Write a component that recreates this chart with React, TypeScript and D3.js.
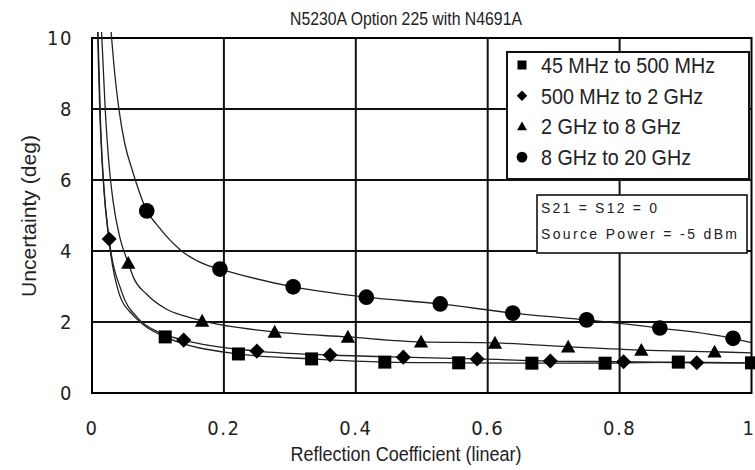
import React from "react";
import * as d3 from "d3";

const title = "N5230A Option 225 with N4691A";
const xTitle = "Reflection Coefficient (linear)";
const yTitle = "Uncertainty (deg)";
const xTicks = [0, 0.2, 0.4, 0.6, 0.8, 1];
const xTickLabels = ["0", "0.2", "0.4", "0.6", "0.8", "1"];
const yTicks = [0, 2, 4, 6, 8, 10];
const yTickLabels = ["0", "2", "4", "6", "8", "10"];
const seriesNames = ["45 MHz to 500 MHz", "500 MHz to 2 GHz", "2 GHz to 8 GHz", "8 GHz to 20 GHz"];
const seriesShapes = ["square", "diamond", "triangle", "circle"];
const noteLines = ["S21 = S12 = 0", "Source Power = -5 dBm"];

// marker values
const squareX = [0.111, 0.222, 0.333, 0.444, 0.556, 0.667, 0.778, 0.889, 1.0];
const squareY = [1.58, 1.1, 0.96, 0.87, 0.85, 0.84, 0.84, 0.87, 0.85];
const diamondX = [0.026, 0.139, 0.25, 0.361, 0.472, 0.584, 0.695, 0.806, 0.917];
const diamondY = [4.34, 1.49, 1.18, 1.07, 1.01, 0.96, 0.9, 0.88, 0.85];
const triangleX = [0.055, 0.167, 0.277, 0.388, 0.499, 0.611, 0.722, 0.833, 0.944];
const triangleY = [3.66, 2.03, 1.72, 1.58, 1.44, 1.41, 1.3, 1.21, 1.16];
const circleX = [0.083, 0.194, 0.305, 0.416, 0.528, 0.638, 0.75, 0.861, 0.972];
const circleY = [5.13, 3.49, 2.99, 2.7, 2.51, 2.25, 2.06, 1.83, 1.54];

// trend-line points (beyond the markers)
const squareCurveX = [0.0085, 0.012, 0.017, 0.025, 0.042, 0.062, 0.083];
const squareCurveY = [10.17, 7.8, 6.0, 4.4, 2.75, 2.2, 1.85];
const diamondCurveX = [0.009, 0.013, 0.018, 0.045, 0.07, 0.1, 1.0];
const diamondCurveY = [10.17, 7.6, 5.8, 2.85, 2.1, 1.72, 0.84];
const triangleCurveX = [0.0145, 0.02, 0.026, 0.032, 0.042, 0.063, 0.083, 0.113, 0.14, 1.0];
const triangleCurveY = [10.17, 8.0, 6.4, 5.4, 4.4, 3.25, 2.78, 2.36, 2.17, 1.13];
const circleCurveX = [0.029, 0.035, 0.041, 0.05, 0.061, 0.072, 0.098, 0.134, 0.174, 1.0];
const circleCurveY = [10.17, 8.9, 7.97, 7.0, 6.28, 5.65, 4.75, 4.03, 3.6, 1.42];

const markerXs = [squareX, diamondX, triangleX, circleX];
const markerYs = [squareY, diamondY, triangleY, circleY];
const curveXs = [squareCurveX, diamondCurveX, triangleCurveX, circleCurveX];
const curveYs = [squareCurveY, diamondCurveY, triangleCurveY, circleCurveY];

const NARROW = "'Liberation Sans Narrow', 'Arial Narrow', 'DejaVu Sans Condensed', sans-serif";
const SANS = "'Liberation Sans', Arial, sans-serif";

function Marker({ shape, cx, cy, s }: { shape: string; cx: number; cy: number; s: number }) {
  if (shape === "square") return <rect x={cx - s / 2} y={cy - s / 2} width={s} height={s} fill="#000" />;
  if (shape === "diamond") {
    const h = s * 0.58;
    return <path d={`M${cx},${cy - h}L${cx + h},${cy}L${cx},${cy + h}L${cx - h},${cy}Z`} fill="#000" />;
  }
  if (shape === "triangle") {
    const h = s * 0.55;
    return <path d={`M${cx},${cy - h}L${cx + h},${cy + h * 0.8}L${cx - h},${cy + h * 0.8}Z`} fill="#000" />;
  }
  return <circle cx={cx} cy={cy} r={s * 0.6} fill="#000" />;
}

const legendWidths = [174, 162, 140, 150];

export default function App() {
  const W = 755, H = 470;
  const x = d3.scaleLinear().domain([0, 1]).range([92, 751.5]);
  const y = d3.scaleLinear().domain([0, 10]).range([393, 38]);
  const line = d3
    .line<[number, number]>()
    .x((d) => x(d[0]))
    .y((d) => y(d[1]))
    .curve(d3.curveMonotoneX);

  const series = seriesNames.map((name, i) => {
    const pts: [number, number][] = [
      ...markerXs[i].map((v, j) => [v, markerYs[i][j]] as [number, number]),
      ...curveXs[i].map((v, j) => [v, curveYs[i][j]] as [number, number]),
    ].sort((a, b) => a[0] - b[0]);
    return { name, shape: seriesShapes[i], pts, mx: markerXs[i], my: markerYs[i] };
  });

  const [x0, x1] = x.range();
  const [yb, yt] = y.range();

  return (
    <svg width={W} height={H} style={{ position: "absolute", left: 0, top: 0, background: "#fff" }}>
      <rect width={W} height={H} fill="#fff" />
      <text x={406} y={25} textAnchor="middle" fontFamily={SANS} fontSize={18.5} textLength={232} lengthAdjust="spacingAndGlyphs" fill="#222">
        {title}
      </text>
      {/* grid */}
      {xTicks.slice(1, -1).map((t) => (
        <line key={"gx" + t} x1={x(t)} x2={x(t)} y1={yt} y2={yb} stroke="#111" strokeWidth={2} />
      ))}
      {yTicks.slice(1, -1).map((t) => (
        <line key={"gy" + t} x1={x0} x2={x1} y1={y(t)} y2={y(t)} stroke="#111" strokeWidth={2} />
      ))}
      <rect x={x0} y={yt} width={x1 - x0} height={yb - yt} fill="none" stroke="#000" strokeWidth={2} />
      {/* tick labels */}
      {xTicks.map((t, i) =>
        i === xTicks.length - 1 ? (
          <text key={"xl" + t} x={754} y={435} textAnchor="end" fontFamily={NARROW} fontSize={20} fill="#222">
            {xTickLabels[i]}
          </text>
        ) : (
          <text key={"xl" + t} x={x(t)} y={435} textAnchor="middle" fontFamily={NARROW} fontSize={20} letterSpacing={1.5} fill="#222">
            {xTickLabels[i]}
          </text>
        )
      )}
      {yTicks.map((t, i) => (
        <text key={"yl" + t} x={73} y={y(t)} dy="0.36em" textAnchor="end" fontFamily={NARROW} fontSize={20} letterSpacing={1.5} fill="#222">
          {yTickLabels[i]}
        </text>
      ))}
      <text x={406} y={461} textAnchor="middle" fontFamily={SANS} fontSize={20.5} textLength={231} lengthAdjust="spacingAndGlyphs" fill="#222">
        {xTitle}
      </text>
      <text transform={`translate(36,216) rotate(-90)`} textAnchor="middle" fontFamily={SANS} fontSize={20} textLength={162} lengthAdjust="spacingAndGlyphs" fill="#222">
        {yTitle}
      </text>
      {/* curves */}
      {series.map((s) => (
        <path key={"c" + s.name} d={line(s.pts) || ""} fill="none" stroke="#222" strokeWidth={1.3} />
      ))}
      {series.map((s) =>
        s.mx.map((v, j) => <Marker key={s.name + j} shape={s.shape} cx={x(v)} cy={y(s.my[j])} s={13} />)
      )}
      {/* legend */}
      <rect x={507} y={52} width={242} height={127} fill="#fff" stroke="#111" strokeWidth={2} />
      {series.map((s, i) => (
        <g key={"lg" + s.name}>
          <Marker shape={s.shape} cx={522} cy={65 + i * 30.7} s={9} />
          <text x={541} y={65 + i * 30.7 + 8} fontFamily={SANS} fontSize={22} textLength={legendWidths[i]} lengthAdjust="spacingAndGlyphs" fill="#222">
            {s.name}
          </text>
        </g>
      ))}
      <rect x={537} y={195} width={210} height={58} fill="#fff" stroke="#111" strokeWidth={1.6} />
      <text x={541} y={213} fontFamily={SANS} fontSize={14} textLength={116} lengthAdjust="spacing" fill="#222">
        {noteLines[0]}
      </text>
      <text x={541} y={239} fontFamily={SANS} fontSize={14} textLength={196} lengthAdjust="spacing" fill="#222">
        {noteLines[1]}
      </text>
    </svg>
  );
}
